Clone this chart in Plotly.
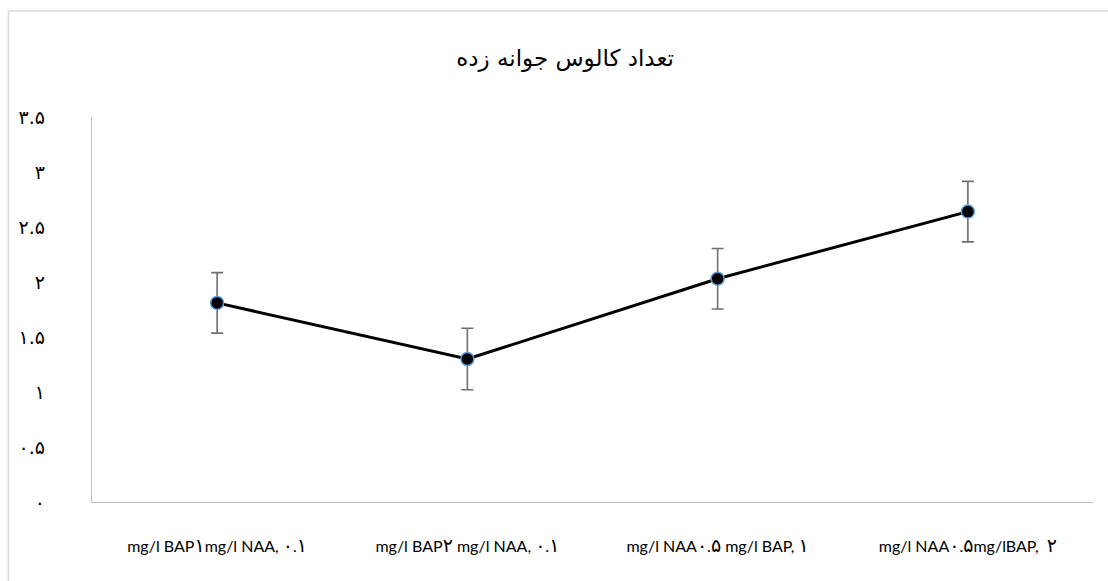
import re
import plotly.graph_objects as go

# Treatments (hormone combinations) on the x axis
categories = [
    "mg/l BAP\u06F1mg/l NAA, \u06F0.\u06F1",
    "mg/l BAP\u06F2 mg/l NAA, \u06F0.\u06F1",
    "mg/l NAA\u06F0.\u06F5 mg/l BAP, \u06F1",
    "mg/l NAA\u06F0.\u06F5mg/lBAP,  \u06F2",
]
# Mean number of sprouted calli and its error
mean_values = [1.81, 1.30, 2.03, 2.64]
error_values = [0.275, 0.28, 0.275, 0.275]

# Y axis ticks with Persian numerals
y_tick_values = [0, 0.5, 1, 1.5, 2, 2.5, 3, 3.5]
y_tick_labels = ["\u06F0", "\u06F0.\u06F5", "\u06F1", "\u06F1.\u06F5",
                 "\u06F2", "\u06F2.\u06F5", "\u06F3", "\u06F3.\u06F5"]

chart_title = "تعداد کالوس جوانه زده"


def enlarge_persian_digits(label):
    # Persian digits come from a fallback font that draws them small,
    # so give them a larger size inside the tick label.
    return re.sub(r"([\u06F0-\u06F9])",
                  r'<span style="font-size:19px">\1</span>', label)


x_tick_labels = [enlarge_persian_digits(c) for c in categories]

fig = go.Figure()
fig.add_trace(go.Scatter(
    x=categories,
    y=mean_values,
    mode="lines+markers",
    line=dict(color="#000000", width=3),
    marker=dict(size=13, color="#000000",
                line=dict(color="#5b9bd5", width=1.5)),
    error_y=dict(type="data", array=error_values, visible=True,
                 color="#6f6f6f", thickness=1.6, width=6),
    showlegend=False,
))

fig.update_layout(
    width=1108,
    height=581,
    margin=dict(l=92, r=15, t=117, b=79),
    paper_bgcolor="#ffffff",
    plot_bgcolor="#ffffff",
    font=dict(family="Lato, DejaVu Sans, sans-serif", color="#000000"),
    title=dict(
        text=chart_title,
        x=0.51, xanchor="center",
        y=0.9, yanchor="middle",
        font=dict(family="DejaVu Sans, sans-serif", size=23, color="#000000"),
    ),
    xaxis=dict(
        type="category",
        range=[-0.5, 3.5],
        tickvals=categories,
        ticktext=x_tick_labels,
        showgrid=False,
        zeroline=False,
        showline=True,
        linecolor="#bfbfbf",
        linewidth=1.3,
        ticks="",
        ticklabelstandoff=30,
        tickfont=dict(size=16, color="#000000"),
    ),
    yaxis=dict(
        range=[0, 3.5],
        tickvals=y_tick_values,
        ticktext=y_tick_labels,
        showgrid=False,
        zeroline=False,
        showline=True,
        linecolor="#bfbfbf",
        linewidth=1.3,
        ticks="",
        ticklabelstandoff=42,
        tickfont=dict(family="DejaVu Sans, sans-serif", size=19, color="#000000"),
    ),
    shapes=[
        # outer frame of the chart area
        dict(type="rect", xref="paper", yref="paper",
             x0=-0.0835, x1=1.03, y0=-0.24, y1=1.2753,
             line=dict(color="#d9d9d9", width=1.5), layer="below"),
    ],
)

fig.write_html("out.html")
